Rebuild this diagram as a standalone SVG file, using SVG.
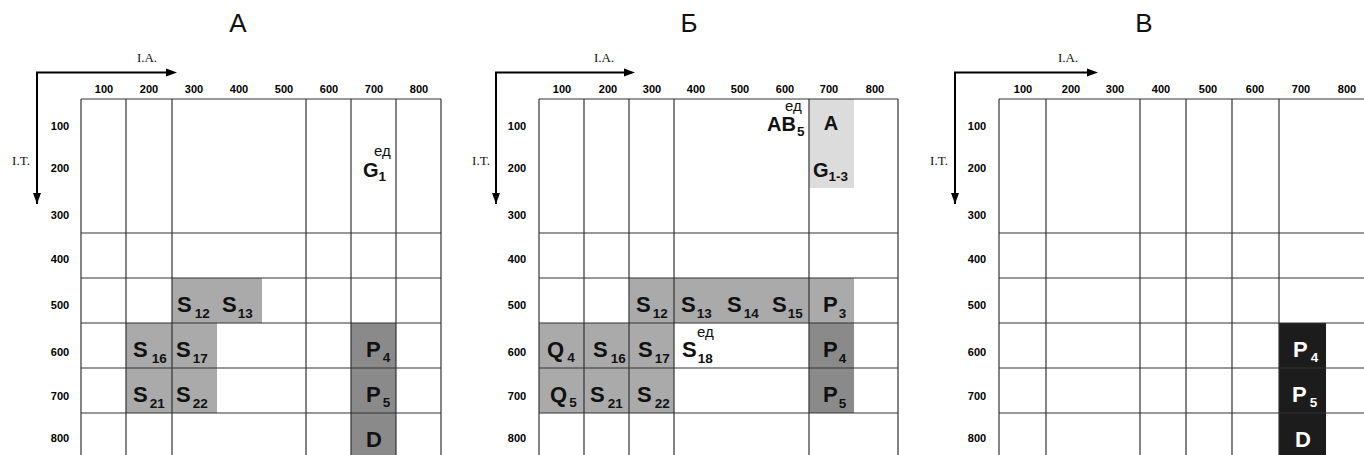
<svg xmlns="http://www.w3.org/2000/svg" width="1364" height="455" viewBox="0 0 1364 455">
  <style>
    .title { font-family: "Liberation Sans", Arial, sans-serif; font-size: 26px; fill: #111; text-anchor: middle; }
    .axis-name { font-family: "Liberation Serif", "Times New Roman", serif; font-size: 13px; fill: #111; text-anchor: middle; }
    .tick { font-family: "Liberation Sans", Arial, sans-serif; font-size: 11px; font-weight: bold; fill: #000000; text-anchor: middle; }
    .axis { stroke: #000; stroke-width: 2; fill: none; }
    .grid line { stroke: #333; stroke-width: 1.2; }
    .light { fill: #dcdcdc; }
    .mid { fill: #aaaaaa; }
    .dark { fill: #8a8a8a; }
    .black { fill: #1c1c1c; }
    .big { font-family: "Liberation Sans", Arial, sans-serif; font-weight: bold; font-size: 22px; fill: #111; }
    .med { font-family: "Liberation Sans", Arial, sans-serif; font-weight: bold; font-size: 20px; fill: #111; }
    .sub { font-size: 13.5px; }
    .sup { font-family: "Liberation Sans", Arial, sans-serif; font-weight: normal; font-size: 15px; fill: #111; }
    .inv { fill: #fff; }
  </style>
  <defs>
    <marker id="arrow" markerUnits="userSpaceOnUse" markerWidth="12" markerHeight="10" refX="1" refY="5" orient="auto">
      <path d="M0,1 L11,5 L0,9 Z" fill="#000"/>
    </marker>
  </defs>

  <!-- panel titles -->
  <text class="title" x="238" y="32">А</text>
  <text class="title" x="689" y="32">Б</text>
  <text class="title" x="1144" y="32">В</text>

  <!-- ===== Panel A ===== -->
  <g id="panel-a">
    <g id="a-cells">
      <rect class="mid" x="172" y="278" width="90" height="45"/>
      <rect class="mid" x="126" y="323" width="91" height="90"/>
      <rect class="dark" x="351" y="323" width="45" height="140"/>
    </g>
    <g class="grid">
      <line x1="81" y1="99" x2="441" y2="99"/>
      <line x1="81" y1="233" x2="441" y2="233"/>
      <line x1="81" y1="278" x2="441" y2="278"/>
      <line x1="81" y1="323" x2="441" y2="323"/>
      <line x1="81" y1="368" x2="441" y2="368"/>
      <line x1="81" y1="413" x2="441" y2="413"/>
      <line x1="81" y1="99" x2="81" y2="460"/>
      <line x1="126" y1="99" x2="126" y2="460"/>
      <line x1="172" y1="99" x2="172" y2="460"/>
      <line x1="306" y1="99" x2="306" y2="460"/>
      <line x1="351" y1="99" x2="351" y2="460"/>
      <line x1="396" y1="99" x2="396" y2="460"/>
      <line x1="441" y1="99" x2="441" y2="460"/>
    </g>
    <g id="a-axes">
      <path class="axis" d="M37,204 V72.5 H167" marker-end="url(#arrow)"/>
      <path class="axis" d="M37,120 V194" marker-end="url(#arrow)"/>
      <text class="axis-name" x="147" y="62">I.A.</text>
      <text class="axis-name" x="21" y="165">I.T.</text>
      <text class="tick" x="104" y="92.5">100</text>
      <text class="tick" x="149" y="92.5">200</text>
      <text class="tick" x="194" y="92.5">300</text>
      <text class="tick" x="239" y="92.5">400</text>
      <text class="tick" x="284" y="92.5">500</text>
      <text class="tick" x="329" y="92.5">600</text>
      <text class="tick" x="374" y="92.5">700</text>
      <text class="tick" x="419" y="92.5">800</text>
      <text class="tick" x="60" y="130">100</text>
      <text class="tick" x="60" y="172">200</text>
      <text class="tick" x="60" y="219">300</text>
      <text class="tick" x="60" y="263">400</text>
      <text class="tick" x="60" y="309">500</text>
      <text class="tick" x="60" y="356">600</text>
      <text class="tick" x="60" y="400">700</text>
      <text class="tick" x="60" y="442">800</text>
    </g>
    <g id="a-labels">
      <text class="med" x="363" y="177">G<tspan class="sub" dy="4">1</tspan></text>
      <text class="sup" x="374" y="156">ед</text>
      <text class="big" x="177" y="312">S<tspan class="sub" dx="3" dy="6">12</tspan></text>
      <text class="big" x="222" y="312">S<tspan class="sub" dx="1" dy="6">13</tspan></text>
      <text class="big" x="133" y="357">S<tspan class="sub" dx="4" dy="6">16</tspan></text>
      <text class="big" x="176" y="357">S<tspan class="sub" dx="2" dy="6">17</tspan></text>
      <text class="big" x="133" y="402">S<tspan class="sub" dx="2" dy="6">21</tspan></text>
      <text class="big" x="176" y="402">S<tspan class="sub" dx="2" dy="6">22</tspan></text>
      <text class="big" x="366" y="357">P<tspan class="sub" dx="2" dy="5">4</tspan></text>
      <text class="big" x="366" y="402">P<tspan class="sub" dx="2" dy="5">5</tspan></text>
      <text class="big" x="366" y="447">D</text>
    </g>
  </g>

  <!-- ===== Panel Б ===== -->
  <g id="panel-b">
    <g id="b-cells">
      <rect class="light" x="809" y="99" width="45" height="89"/>
      <rect class="mid" x="629" y="278" width="225" height="45"/>
      <rect class="mid" x="539" y="323" width="135" height="90"/>
      <rect class="dark" x="809" y="323" width="45" height="90"/>
    </g>
    <g class="grid">
      <line x1="539" y1="99" x2="898" y2="99"/>
      <line x1="539" y1="233" x2="898" y2="233"/>
      <line x1="539" y1="278" x2="898" y2="278"/>
      <line x1="539" y1="323" x2="898" y2="323"/>
      <line x1="539" y1="368" x2="898" y2="368"/>
      <line x1="539" y1="413" x2="898" y2="413"/>
      <line x1="539" y1="99" x2="539" y2="460"/>
      <line x1="584" y1="99" x2="584" y2="460"/>
      <line x1="629" y1="99" x2="629" y2="460"/>
      <line x1="674" y1="99" x2="674" y2="460"/>
      <line x1="809" y1="99" x2="809" y2="460"/>
      <line x1="898" y1="99" x2="898" y2="460"/>
    </g>
    <g id="b-axes">
      <path class="axis" d="M496,204 V72.5 H625" marker-end="url(#arrow)"/>
      <path class="axis" d="M496,120 V194" marker-end="url(#arrow)"/>
      <text class="axis-name" x="604" y="62">I.A.</text>
      <text class="axis-name" x="481" y="165">I.T.</text>
      <text class="tick" x="562" y="92.5">100</text>
      <text class="tick" x="608" y="92.5">200</text>
      <text class="tick" x="652" y="92.5">300</text>
      <text class="tick" x="696" y="92.5">400</text>
      <text class="tick" x="740" y="92.5">500</text>
      <text class="tick" x="785" y="92.5">600</text>
      <text class="tick" x="829" y="92.5">700</text>
      <text class="tick" x="875" y="92.5">800</text>
      <text class="tick" x="517" y="130">100</text>
      <text class="tick" x="517" y="172">200</text>
      <text class="tick" x="517" y="219">300</text>
      <text class="tick" x="517" y="263">400</text>
      <text class="tick" x="517" y="309">500</text>
      <text class="tick" x="517" y="356">600</text>
      <text class="tick" x="517" y="400">700</text>
      <text class="tick" x="517" y="442">800</text>
    </g>
    <g id="b-labels">
      <text class="sup" x="785" y="111">ед</text>
      <text class="med" x="767" y="131">AB<tspan class="sub" dx="1" dy="5">5</tspan></text>
      <text class="med" x="831" y="130" text-anchor="middle">A</text>
      <text class="med" x="813" y="177">G<tspan class="sub" dx="0" dy="4">1-3</tspan></text>
      <text class="big" x="636" y="312">S<tspan class="sub" dx="2" dy="6">12</tspan></text>
      <text class="big" x="681" y="312">S<tspan class="sub" dx="1" dy="6">13</tspan></text>
      <text class="big" x="727" y="312">S<tspan class="sub" dx="2" dy="6">14</tspan></text>
      <text class="big" x="772" y="312">S<tspan class="sub" dx="1" dy="6">15</tspan></text>
      <text class="big" x="823" y="312">P<tspan class="sub" dx="1" dy="6">3</tspan></text>
      <text class="big" x="547" y="357">Q<tspan class="sub" dx="3" dy="5">4</tspan></text>
      <text class="big" x="593" y="357">S<tspan class="sub" dx="3" dy="6">16</tspan></text>
      <text class="big" x="638" y="357">S<tspan class="sub" dx="2" dy="6">17</tspan></text>
      <text class="big" x="682" y="357">S<tspan class="sub" dx="1" dy="6">18</tspan></text>
      <text class="sup" x="697" y="337">ед</text>
      <text class="big" x="823" y="357">P<tspan class="sub" dx="1" dy="6">4</tspan></text>
      <text class="big" x="550" y="402">Q<tspan class="sub" dx="2" dy="5">5</tspan></text>
      <text class="big" x="590" y="402">S<tspan class="sub" dx="3" dy="6">21</tspan></text>
      <text class="big" x="637" y="402">S<tspan class="sub" dx="3" dy="6">22</tspan></text>
      <text class="big" x="823" y="402">P<tspan class="sub" dx="1" dy="6">5</tspan></text>
    </g>
  </g>

  <!-- ===== Panel В ===== -->
  <g id="panel-c">
    <g id="c-cells">
      <rect class="black" x="1279" y="323" width="47" height="140"/>
    </g>
    <g class="grid">
      <line x1="999" y1="99" x2="1364" y2="99"/>
      <line x1="999" y1="233" x2="1364" y2="233"/>
      <line x1="999" y1="278" x2="1364" y2="278"/>
      <line x1="999" y1="323" x2="1364" y2="323"/>
      <line x1="999" y1="368" x2="1364" y2="368"/>
      <line x1="999" y1="413" x2="1364" y2="413"/>
      <line x1="999" y1="99" x2="999" y2="460"/>
      <line x1="1046" y1="99" x2="1046" y2="460"/>
      <line x1="1140" y1="99" x2="1140" y2="460"/>
      <line x1="1186" y1="99" x2="1186" y2="460"/>
      <line x1="1232" y1="99" x2="1232" y2="460"/>
      <line x1="1279" y1="99" x2="1279" y2="460"/>
    </g>
    <g id="c-axes">
      <path class="axis" d="M955,204 V72.5 H1088" marker-end="url(#arrow)"/>
      <path class="axis" d="M955,120 V194" marker-end="url(#arrow)"/>
      <text class="axis-name" x="1068" y="62">I.A.</text>
      <text class="axis-name" x="939" y="165">I.T.</text>
      <text class="tick" x="1023" y="92.5">100</text>
      <text class="tick" x="1071" y="92.5">200</text>
      <text class="tick" x="1115" y="92.5">300</text>
      <text class="tick" x="1161" y="92.5">400</text>
      <text class="tick" x="1208" y="92.5">500</text>
      <text class="tick" x="1255" y="92.5">600</text>
      <text class="tick" x="1301" y="92.5">700</text>
      <text class="tick" x="1347" y="92.5">800</text>
      <text class="tick" x="977" y="130">100</text>
      <text class="tick" x="977" y="172">200</text>
      <text class="tick" x="977" y="219">300</text>
      <text class="tick" x="977" y="263">400</text>
      <text class="tick" x="977" y="309">500</text>
      <text class="tick" x="977" y="356">600</text>
      <text class="tick" x="977" y="400">700</text>
      <text class="tick" x="977" y="442">800</text>
    </g>
    <g id="c-labels">
      <text class="big inv" x="1293" y="357">P<tspan class="sub" dx="3" dy="5">4</tspan></text>
      <text class="big inv" x="1292" y="402">P<tspan class="sub" dx="3" dy="5">5</tspan></text>
      <text class="big inv" x="1295" y="447">D</text>
    </g>
  </g>
</svg>
